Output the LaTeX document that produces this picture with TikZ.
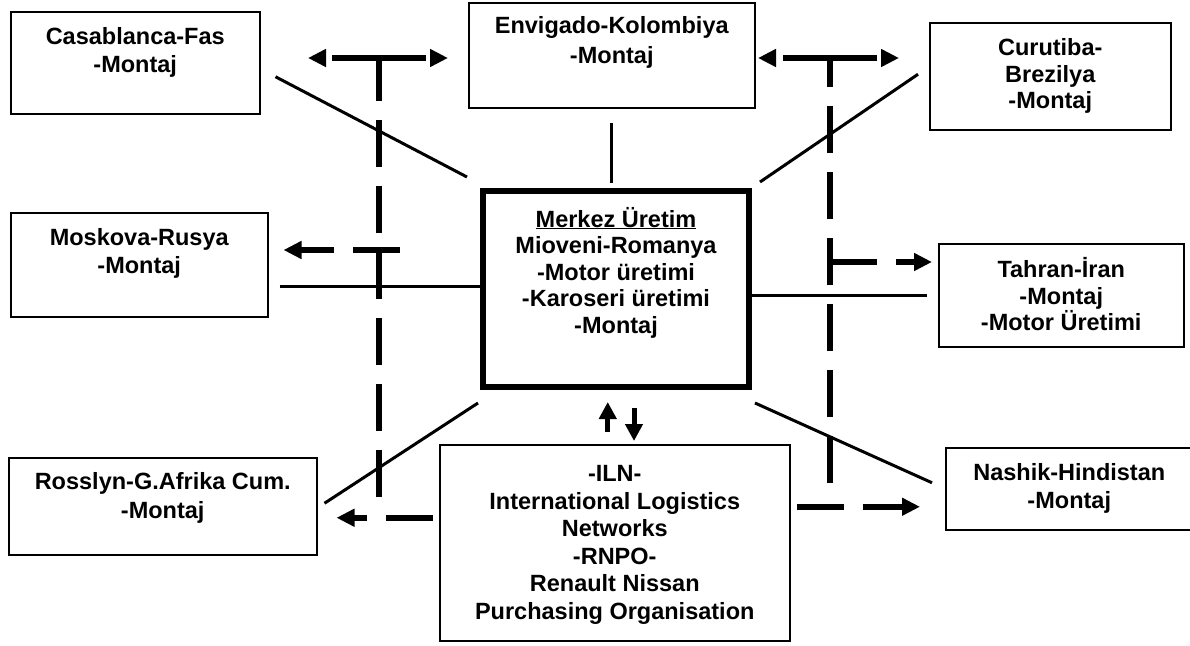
\documentclass[tikz,border=0pt]{standalone}
\usepackage{fontspec}
\setmainfont{Liberation Sans}
\usetikzlibrary{arrows.meta,calc}
\newcommand{\sitefont}{\fontsize{23.5}{27.5}\selectfont\bfseries}
\newcommand{\sitetext}[4]{\parbox[c][#2pt][t]{#1pt}{\centering\rule{0pt}{#3pt}#4}}

\begin{document}
\begin{tikzpicture}[x=1pt, y=-1pt,
  site/.style={draw, line width=1.5pt, inner sep=0pt, anchor=north west, font=\sitefont},
  hub/.style={site, line width=6pt},
  link/.style={line width=3pt},
  spine/.style={line width=6pt, dash pattern=on 47pt off 19pt},
  flow/.style={spine, -{Triangle[length=18pt, width=17pt]}},
  swap/.style={line width=5pt, -{Triangle[length=17pt, width=17pt]}}]
 \useasboundingbox (0,0) rectangle (1190,645);

 \node[site] (casa) at (10,11) {\sitetext{249}{102}{33}{Casablanca-Fas\\-Montaj}};
 \node[site] (envi) at (468,2) {\sitetext{286}{105}{31}{Envigado-Kolombiya\\[2pt]-Montaj}};
 \node[site] (curu) at (929,22) {\sitetext{241}{107}{33}{Curutiba-\\[-1pt]Brezilya\\[-1pt]-Montaj}};
 \node[site] (mosk) at (10,212) {\sitetext{257}{104}{33}{Moskova-Rusya\\-Montaj}};
 \node[hub] (merk) at (480,188) {\sitetext{266}{196}{36}{\underline{Merkez Üretim}\\[-1pt]Mioveni-Romanya\\[-1pt]-Motor üretimi\\[-1pt]-Karoseri üretimi\\[-1pt]-Montaj}};
 \node[site] (tahr) at (938,243) {\sitetext{245}{103}{34}{Tahran-İran\\[-1pt]-Montaj\\[-1pt]-Motor Üretimi}};
 \node[site] (ross) at (8,457) {\sitetext{308}{97}{32}{Rosslyn-G.Afrika Cum.\\[1pt]-Montaj}};
 \node[site] (iln) at (439,444) {\sitetext{350}{196}{37}{-ILN-\\International Logistics\\Networks\\-RNPO-\\Renault Nissan\\Purchasing Organisation}};
 \node[site] (nash) at (945,447) {\sitetext{247}{82}{33}{Nashik-Hindistan\\-Montaj}};

 % plain links to the centre
 \draw[link] ([shift={(15,14)}]casa.east) -- ([shift={(-13,-11)}]merk.north west);
 \draw[link] ([shift={(0,14)}]envi.south) -- ($(envi.south |- merk.north)+(0,-5)$);
 \draw[link] ([shift={(-11,-2)}]curu.west) -- ([shift={(8,-6)}]merk.north east);
 \coordinate (ma) at ([shift={(11,22)}]mosk.east);
 \draw[link] (ma) -- (ma -| merk.west);
 \coordinate (ta) at ([shift={(-11,0)}]tahr.west);
 \draw[link] (ta) -- (ta -| merk.east);
 \draw[link] ([shift={(7,-3)}]ross.east) -- ([shift={(-2,13)}]merk.south west);
 \draw[link] ([shift={(3,13)}]merk.south east) -- ([shift={(-13,-6)}]nash.west);

 % supply lines
 \coordinate (lt) at (379,58);
 \coordinate (lb) at (379,497);
 \coordinate (lm) at (379,250);
 \coordinate (rt) at (830,58);
 \coordinate (rb) at (830,483);
 \coordinate (rm) at (830,262);
 \draw[spine] (lb) -- (lt);
 \draw[flow] (lt) -- ++(-71,0);
 \draw[flow] (lt) -- ++(69,0);
 \draw[flow] ([shift={(21,0)}]lm) -- ($(mosk.east |- lm)+(15,0)$);
 \draw[spine] (rb) -- (rt);
 \draw[flow] (rt) -- ++(-72,0);
 \draw[flow] (rt) -- ++(69,0);
 \draw[flow] (rm) -- ($(tahr.west |- rm)+(-6,0)$);
 \coordinate (ia) at ([shift={(-6,-25)}]iln.west);
 \draw[flow] (ia) -- ($(ross.east |- ia)+(19,0)$);
 \coordinate (ib) at ([shift={(6,-36)}]iln.east);
 \draw[flow] (ib) -- ($(nash.west |- ib)+(-25,0)$);

 \coordinate (ua) at ([shift={(-7,-12)}]iln.north);
 \draw[swap] (ua) -- ($(ua |- merk.south)+(0,12)$);
 \coordinate (da) at ([shift={(18,18)}]merk.south);
 \draw[swap] (da) -- ($(da |- iln.north)+(0,-3)$);
\end{tikzpicture}
\end{document}
